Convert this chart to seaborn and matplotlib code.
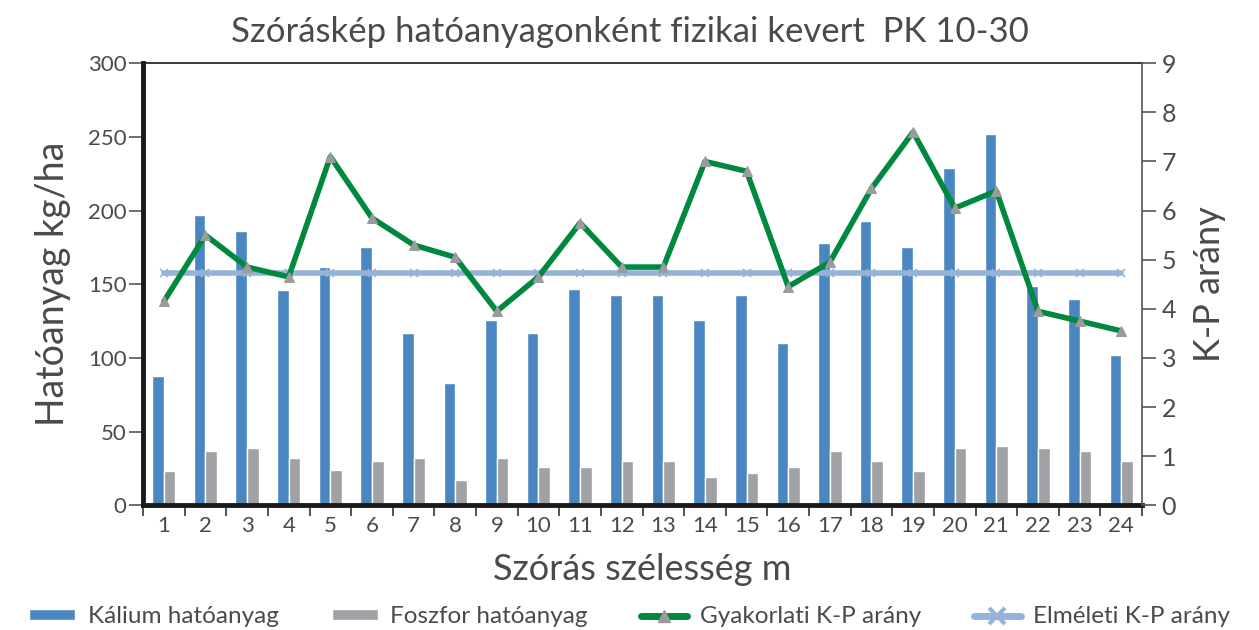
import numpy as np
import pandas as pd
import seaborn as sns
import matplotlib.pyplot as plt
from matplotlib.patches import Patch
from matplotlib.lines import Line2D

# ----------------------------
# Data
# ----------------------------
meters = [str(i) for i in range(1, 25)]
kalium = [88, 197, 186, 146, 162, 175, 117, 83, 126, 117, 147, 143,
          143, 126, 143, 110, 178, 193, 175, 229, 252, 149, 140, 102]
foszfor = [23, 37, 39, 32, 24, 30, 32, 17, 32, 26, 26, 30,
           30, 19, 22, 26, 37, 30, 23, 39, 40, 39, 37, 30]
gyakorlati = [4.15, 5.5, 4.85, 4.65, 7.1, 5.85, 5.3, 5.05, 3.95, 4.65, 5.75, 4.85,
              4.85, 7.0, 6.8, 4.45, 4.95, 6.45, 7.6, 6.05, 6.4, 3.95, 3.75, 3.55]
elmeleti = [4.73] * 24

BLUE = "#4a87c1"
GRAY = "#a0a0a5"
GREEN = "#00893e"
LIGHT = "#95b3d7"
TXT = "#4a4a4a"

sns.set_style("white")
plt.rcParams['font.family'] = ['Lato', 'DejaVu Sans']

bars = pd.DataFrame({
    "m": meters * 2,
    "val": kalium + foszfor,
    "tipus": ["Kálium hatóanyag"] * 24 + ["Foszfor hatóanyag"] * 24,
})
lines = pd.DataFrame({"m": meters, "gy": gyakorlati, "el": elmeleti})

fig = plt.figure(figsize=(12.59, 6.3), dpi=100)
ax = fig.add_axes([0.1136, 0.198, 0.7935, 0.7016])

sns.barplot(data=bars, x="m", y="val", hue="tipus", order=meters,
            palette=[BLUE, GRAY], width=0.56, saturation=1, ax=ax, legend=False)
ax.set_ylim(0, 300)
ax.set_xlim(-0.5, len(meters) - 0.5)
ax.set_yticks(range(0, 301, 50))

ax2 = ax.twinx()
sns.lineplot(data=lines, x="m", y="el", color=LIGHT, lw=4, marker="x",
             markersize=6, markeredgecolor=LIGHT, markeredgewidth=1.2, ax=ax2)
sns.lineplot(data=lines, x="m", y="gy", color=GREEN, lw=4, marker="^",
             markersize=7, markerfacecolor="#9b9b9b", markeredgecolor="#9b9b9b", ax=ax2)
ax2.set_ylim(0, 9)
ax2.set_yticks(range(0, 10))
ax2.set_xlim(-0.5, len(meters) - 0.5)

# spines
for s in ["left", "bottom"]:
    ax.spines[s].set_linewidth(3.5)
    ax.spines[s].set_color("#1a1a1a")
ax.spines["top"].set_linewidth(1.2)
ax.spines["top"].set_color("#1a1a1a")
ax.spines["right"].set_visible(False)
for s in ["left", "bottom", "top"]:
    ax2.spines[s].set_visible(False)
ax2.spines["right"].set_linewidth(1.2)
ax2.spines["right"].set_color("#555555")

# ticks
ax.tick_params(axis="y", direction="out", length=10, width=1.2, color="#555555",
               labelsize=16, labelcolor=TXT, left=True, pad=2)
ax.tick_params(axis="x", which="major", length=0, labelsize=16, labelcolor=TXT, pad=8)
ax.set_xticks(np.arange(len(meters) + 1) - 0.5, minor=True)
ax.tick_params(axis="x", which="minor", direction="out", length=8, width=1.2,
               color="#333333", bottom=True)
ax2.tick_params(axis="y", direction="out", length=10, width=1.2, color="#555555",
                labelsize=18, labelcolor=TXT, right=True, pad=4)

ax.set_xlabel("Szórás szélesség m", fontsize=26, color=TXT, labelpad=12)
ax.set_ylabel("Hatóanyag kg/ha", fontsize=27, color=TXT, labelpad=12)
ax2.set_ylabel("K-P arány", fontsize=26, color=TXT, labelpad=12)
fig.suptitle("Szóráskép hatóanyagonként fizikai kevert  PK 10-30",
             fontsize=25, color=TXT, y=0.975)

handles = [
    Patch(facecolor=BLUE),
    Patch(facecolor=GRAY),
    Line2D([], [], color=GREEN, lw=5, marker="^", markersize=8,
           markerfacecolor="#9b9b9b", markeredgecolor="#9b9b9b"),
    Line2D([], [], color=LIGHT, lw=5, marker="x", markersize=12,
           markeredgecolor=LIGHT, markeredgewidth=3),
]
labels = ["Kálium hatóanyag", "Foszfor hatóanyag",
          "Gyakorlati K-P arány", "Elméleti K-P arány"]
fig.legend(handles, labels, loc="lower center", bbox_to_anchor=(0.5, -0.03),
           ncol=4, frameon=False, fontsize=17.5, labelcolor=TXT,
           handlelength=1.9, handleheight=0.35, handletextpad=0.5,
           columnspacing=2.2)

fig.savefig("out.png", dpi=100)
